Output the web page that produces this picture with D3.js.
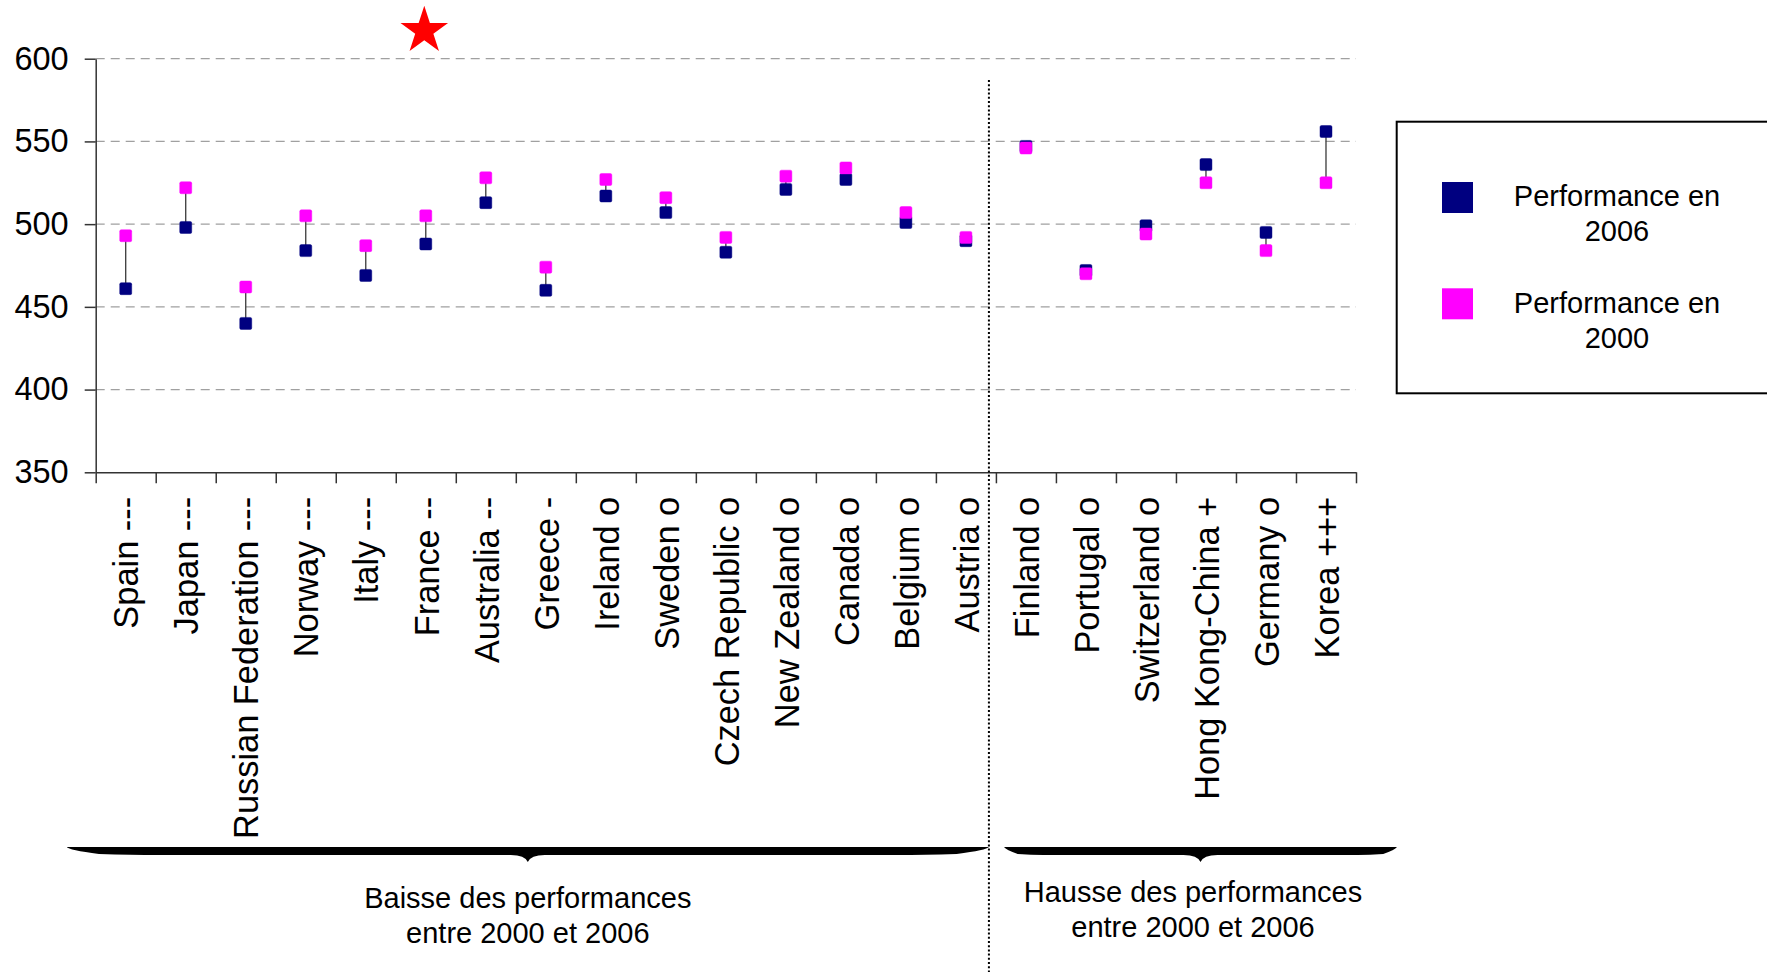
<!DOCTYPE html>
<html>
<head>
<meta charset="utf-8">
<script src="https://cdn.jsdelivr.net/npm/d3@7"></script>
<style>
  html, body { margin: 0; padding: 0; background: #fff; }
  svg { display: block; font-family: "Liberation Sans", Arial, sans-serif; }
</style>
</head>
<body>
<svg id="chart" width="1767" height="972"></svg>
<script>
// PISA reading scores, 2000 vs 2006
const countries = [
  "Spain ---", "Japan ---", "Russian Federation ---", "Norway ---", "Italy ---",
  "France --", "Australia --", "Greece -", "Ireland o", "Sweden o",
  "Czech Republic o", "New Zealand o", "Canada o", "Belgium o", "Austria o",
  "Finland o", "Portugal o", "Switzerland o", "Hong Kong-China +", "Germany o", "Korea +++"
];
const score2006 = [461, 498, 440, 484, 469, 488, 513, 460, 517, 507, 483, 521, 527, 501, 490, 547, 472, 499, 536, 495, 556];
const score2000 = [493, 522, 462, 505, 487, 505, 528, 474, 527, 516, 492, 529, 534, 507, 492, 546, 470, 494, 525, 484, 525];
const yTicks = [350, 400, 450, 500, 550, 600];
const seriesNames = ["Performance en 2006", "Performance en 2000"];
const seriesColors = ["#000080", "#FF00FF"];
const groupLabels = [
  ["Baisse des performances", "entre 2000 et 2006"],
  ["Hausse des performances", "entre 2000 et 2006"]
];
const firstRising = "Finland o";
const highlighted = "France --";

const svg = d3.select("#chart");
const plot = { left: 95.7, right: 1356, top: 58.7, bottom: 472.3 };

const x = d3.scaleBand().domain(countries).range([plot.left, plot.right]).padding(0);
const y = d3.scaleLinear().domain([350, 600]).range([plot.bottom, plot.top]);
const xEdges = d3.scaleLinear().domain([0, countries.length]).range([plot.left, plot.right]);

const rows = countries.map((c, i) => ({ c, v2006: score2006[i], v2000: score2000[i] }));

// dashed horizontal gridlines
svg.append("g").selectAll("line")
  .data(yTicks.filter(t => t > 350))
  .join("line")
  .attr("x1", plot.left).attr("x2", plot.right)
  .attr("y1", d => y(d)).attr("y2", d => y(d))
  .attr("stroke", "#a0a0a0").attr("stroke-width", 1.3)
  .attr("stroke-dasharray", "9,6");

// y axis
const yAxis = svg.append("g")
  .attr("transform", `translate(${plot.left},0)`)
  .call(d3.axisLeft(y).tickValues(yTicks).tickFormat(d3.format("d")).tickSize(11).tickSizeOuter(0).tickPadding(16));
yAxis.select(".domain").attr("stroke", "#333").attr("stroke-width", 1.5);
yAxis.selectAll(".tick line").attr("stroke", "#333").attr("stroke-width", 1.5);
yAxis.selectAll(".tick text").attr("font-size", 32.5).attr("fill", "#000")
  .attr("font-family", "'Liberation Sans', Arial, sans-serif");

// x axis: ticks on category boundaries
const xAxis = svg.append("g")
  .attr("transform", `translate(0,${plot.bottom})`)
  .call(d3.axisBottom(xEdges).tickValues(d3.range(countries.length + 1)).tickFormat("").tickSize(11).tickSizeOuter(0));
xAxis.select(".domain").attr("stroke", "#333").attr("stroke-width", 1.5);
xAxis.selectAll(".tick line").attr("stroke", "#333").attr("stroke-width", 1.5);

// x category labels, rotated
const xLabels = svg.append("g")
  .attr("transform", `translate(0,${plot.bottom})`)
  .call(d3.axisBottom(x).tickSize(0));
xLabels.select(".domain").remove();
xLabels.selectAll(".tick text")
  .attr("font-size", 34.4).attr("fill", "#000")
  .attr("font-family", "'Liberation Sans', Arial, sans-serif")
  .attr("transform", "rotate(-90)")
  .attr("text-anchor", "end")
  .attr("x", -24.5).attr("y", 0).attr("dy", "0.37em");

// connectors between the two years
svg.append("g").selectAll("line")
  .data(rows)
  .join("line")
  .attr("x1", d => x(d.c) + x.bandwidth() / 2)
  .attr("x2", d => x(d.c) + x.bandwidth() / 2)
  .attr("y1", d => y(d.v2000)).attr("y2", d => y(d.v2006))
  .attr("stroke", "#3a3a3a").attr("stroke-width", 1.3);

// markers: 2006 first, 2000 on top
const ms = 12;
[["v2006", seriesColors[0]], ["v2000", seriesColors[1]]].forEach(([key, col]) => {
  svg.append("g").selectAll("rect")
    .data(rows)
    .join("rect")
    .attr("x", d => x(d.c) + x.bandwidth() / 2 - ms / 2)
    .attr("y", d => y(d[key]) - ms / 2)
    .attr("width", ms).attr("height", ms)
    .attr("rx", 1.5)
    .attr("fill", col)
    .attr("stroke", col).attr("stroke-opacity", 0.45).attr("stroke-width", 1);
});

// dotted separator between falling and rising groups
const sepX = x(firstRising) - 7;
svg.append("line")
  .attr("x1", sepX).attr("x2", sepX)
  .attr("y1", 80).attr("y2", 972)
  .attr("stroke", "#000").attr("stroke-width", 2)
  .attr("stroke-dasharray", "2,2.2");

// red star above the highlighted country
svg.append("path")
  .attr("d", d3.symbol(d3.symbolStar, 25 * 25 / 0.8908130915292852)())
  .attr("transform", `translate(${x(highlighted) + x.bandwidth() / 2 - 1.5},30.8)`)
  .attr("fill", "#FF0000");

// braces under each group
function bracePath(a, b, t) {
  const m = (a + b) / 2;
  const taper = (b - a) * 0.1;
  const th = 8, tip = 15;
  return `M${a},${t} L${b},${t} ` +
    `Q${b - 2},${t + 3} ${b - taper * 0.35},${t + th - 1} ` +
    `Q${b - taper * 0.7},${t + th} ${b - taper},${t + th} ` +
    `L${m + 17},${t + th} Q${m + 3},${t + th} ${m},${t + tip} ` +
    `Q${m - 3},${t + th} ${m - 17},${t + th} ` +
    `L${a + taper},${t + th} ` +
    `Q${a + taper * 0.7},${t + th} ${a + taper * 0.35},${t + th - 1} ` +
    `Q${a + 2},${t + 3} ${a},${t} Z`;
}
const braces = [
  { a: 66.7, b: sepX, capX: (66.7 + sepX) / 2, capY: 908.3 },
  { a: 1004, b: 1397, capX: 1193, capY: 901.7 }
];
braces.forEach((br, i) => {
  svg.append("path").attr("d", bracePath(br.a, br.b, 847)).attr("fill", "#000");
  const t = svg.append("text")
    .attr("x", br.capX).attr("y", br.capY)
    .attr("text-anchor", "middle").attr("font-size", 29).attr("fill", "#000");
  groupLabels[i].forEach((line, j) => {
    t.append("tspan").attr("x", br.capX).attr("dy", j === 0 ? 0 : 35).text(line);
  });
});

// legend
const lg = svg.append("g");
lg.append("rect")
  .attr("x", 1396.7).attr("y", 121.7)
  .attr("width", 420).attr("height", 271.6)
  .attr("fill", "#fff").attr("stroke", "#000").attr("stroke-width", 2);
const legendRows = [
  { sy: 182, ty: 206 },
  { sy: 288.3, ty: 313.3 }
];
legendRows.forEach((r, i) => {
  lg.append("rect")
    .attr("x", 1442).attr("y", r.sy).attr("width", 31).attr("height", 31)
    .attr("fill", seriesColors[i]);
  const words = seriesNames[i].split(" ");
  const t = lg.append("text")
    .attr("x", 1617).attr("y", r.ty)
    .attr("text-anchor", "middle").attr("font-size", 29).attr("fill", "#000");
  t.append("tspan").attr("x", 1617).attr("dy", 0).text(words.slice(0, 2).join(" "));
  t.append("tspan").attr("x", 1617).attr("dy", 34.5).text(words.slice(2).join(" "));
});
</script>
</body>
</html>
